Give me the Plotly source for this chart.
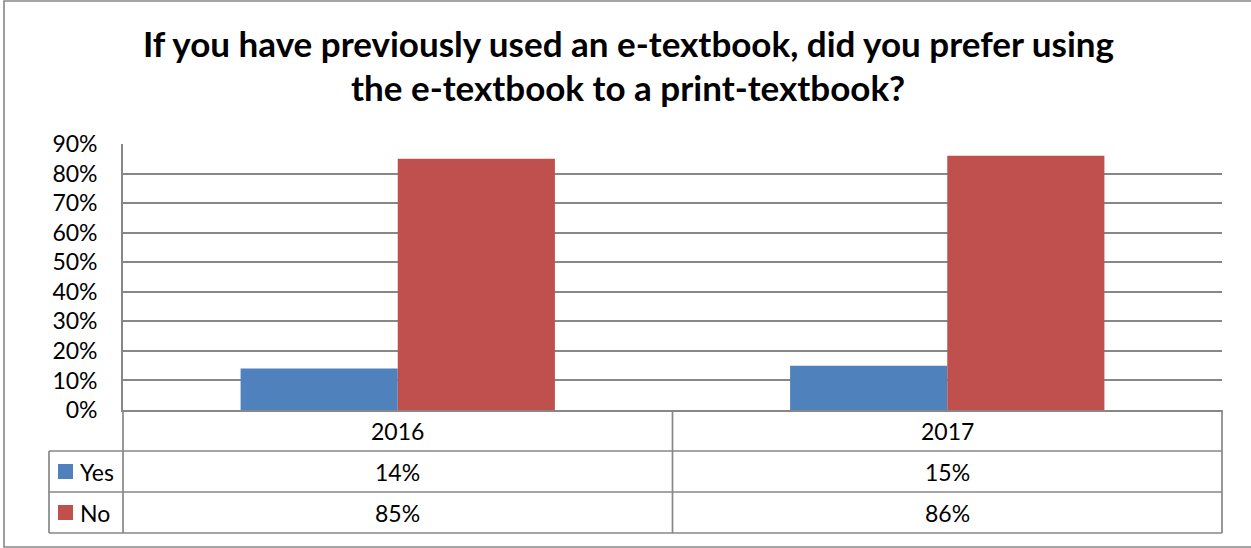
import plotly.graph_objects as go

# ---- data ----
categories = ["2016", "2017"]
series_names = ["Yes", "No"]
yes_values = [0.14, 0.15]
no_values = [0.85, 0.86]
series_colors = ["#4F81BD", "#C0504D"]
title_lines = [
    "If you have previously used an e-textbook, did you prefer using",
    "the e-textbook to a print-textbook?",
]

# ---- layout geometry (pixels) ----
W, H = 1251, 548
L, R, T, B = 123, 1222, 144, 410
PW, PH = R - L, B - T


def px(x):
    return (x - L) / PW


def py(y):
    return (B - y) / PH


FONT = "Lato"
GRID = "#878787"
FS = 23

fig = go.Figure()
for name, vals, col in zip(series_names, [yes_values, no_values], series_colors):
    fig.add_trace(go.Bar(x=categories, y=vals, name=name, marker=dict(color=col, line=dict(width=0))))

shapes = []
line_style = dict(color=GRID, width=1.7)
# table horizontal lines
for yy in [451, 492, 533]:
    shapes.append(dict(type="line", xref="paper", yref="paper", x0=px(49), x1=px(R), y0=py(yy), y1=py(yy), line=line_style))
# table vertical lines
shapes.append(dict(type="line", xref="paper", yref="paper", x0=px(L), x1=px(L), y0=py(B), y1=py(533), line=line_style))
shapes.append(dict(type="line", xref="paper", yref="paper", x0=px(R), x1=px(R), y0=py(B), y1=py(533), line=line_style))
shapes.append(dict(type="line", xref="paper", yref="paper", x0=px(49), x1=px(49), y0=py(451), y1=py(533), line=line_style))
# divider between categories
shapes.append(dict(type="line", xref="x", yref="paper", x0=0.5, x1=0.5, y0=py(B), y1=py(533), line=line_style))
# outer border
shapes.append(dict(type="rect", xref="paper", yref="paper", x0=px(4), x1=px(1262), y0=py(1), y1=py(547),
                   line=dict(color=GRID, width=1.6)))

annotations = []
row_centers = [471.5, 512.5]
# header row (categories)
for i, c in enumerate(categories):
    annotations.append(dict(x=i, xref="x", y=py(430.5), yref="paper", text=c, showarrow=False,
                            font=dict(family=FONT, size=FS, color="#000"), xanchor="center", yanchor="middle"))
# value rows + legend keys
for name, vals, col, yc in zip(series_names, [yes_values, no_values], series_colors, row_centers):
    for i, v in enumerate(vals):
        annotations.append(dict(x=i, xref="x", y=py(yc), yref="paper", text=f"{round(v*100)}%", showarrow=False,
                                font=dict(family=FONT, size=FS, color="#000"), xanchor="center", yanchor="middle"))
    shapes.append(dict(type="rect", xref="paper", yref="paper", x0=px(58), x1=px(73), y0=py(yc - 7.5), y1=py(yc + 7.5),
                       fillcolor=col, line=dict(width=0)))
    annotations.append(dict(x=px(78), xref="paper", y=py(yc), yref="paper", text=name, showarrow=False,
                            font=dict(family=FONT, size=FS, color="#000"), xanchor="left", yanchor="middle"))

# title lines
for line, yc in zip(title_lines, [43, 87]):
    annotations.append(dict(x=px(628), xref="paper", y=py(yc), yref="paper", text=f"<b>{line}</b>", showarrow=False,
                            font=dict(family=FONT, size=35, color="#000"), xanchor="center", yanchor="middle"))

fig.update_layout(
    width=W, height=H,
    margin=dict(l=L, r=W - R, t=T, b=H - B, pad=0),
    paper_bgcolor="white", plot_bgcolor="white",
    showlegend=False,
    barmode="group", bargap=0.428, bargroupgap=0,
    shapes=shapes, annotations=annotations,
    font=dict(family=FONT, color="#000"),
)
fig.update_xaxes(showticklabels=False, showgrid=False, showline=True, linecolor=GRID, linewidth=1.7,
                 range=[-0.5, 1.5], zeroline=False)
fig.update_yaxes(range=[0, 0.9], dtick=0.1, tickformat=".0%", showgrid=True, gridcolor=GRID, gridwidth=1.7,
                 showline=True, linecolor=GRID, linewidth=1.7, zeroline=False, ticks="",
                 ticklabelstandoff=19, tickfont=dict(family=FONT, size=FS, color="#000"))

fig.write_html("out.html", config={"displayModeBar": False},
               post_script="document.body.style.margin='0';document.body.style.overflow='hidden';")
